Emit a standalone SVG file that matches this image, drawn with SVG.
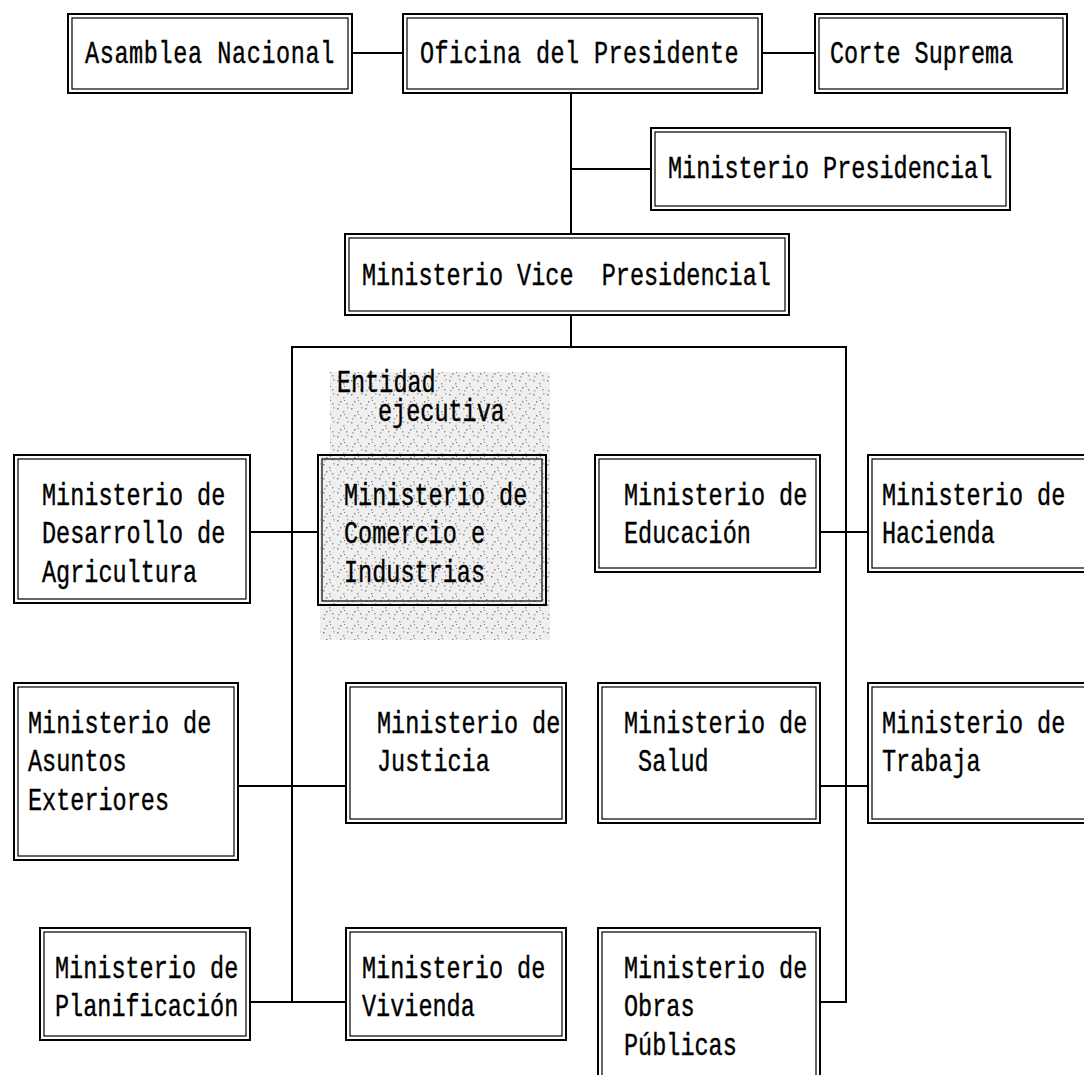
<svg xmlns="http://www.w3.org/2000/svg" width="1084" height="1075" viewBox="0 0 1084 1075">
<defs>
<pattern id="speck" width="14" height="14" patternUnits="userSpaceOnUse">
<rect width="14" height="14" fill="#efefef"/>
<rect x="1" y="2" width="1.5" height="1.5" fill="#888"/>
<rect x="7" y="5" width="1.5" height="1.5" fill="#999"/>
<rect x="11" y="1" width="1.5" height="1.5" fill="#aaa"/>
<rect x="4" y="9" width="1.5" height="1.5" fill="#888"/>
<rect x="10" y="11" width="1.5" height="1.5" fill="#999"/>
<rect x="2" y="12" width="1.5" height="1.5" fill="#aaa"/>
<rect x="8" y="8" width="1" height="1" fill="#777"/>
</pattern>
</defs>
<style>
.o{fill:none;stroke:#000;stroke-width:2}
.i{fill:none;stroke:#000;stroke-width:1.2}
.c{fill:none;stroke:#000;stroke-width:2}
text{font-family:"Liberation Mono","DejaVu Sans Mono",monospace;font-size:23.5px;fill:#000;stroke:#000;stroke-width:0.3}
</style>
<rect width="1084" height="1075" fill="#fff"/>
<g id="shade">
<path d="M330,372 H550 V640 H320 V455 H330 Z" fill="url(#speck)"/>
<text transform="translate(337,392) scale(1,1.3)">Entidad</text>
<text transform="translate(378,421) scale(1,1.3)">ejecutiva</text>
</g>
<g id="connectors">
<line class="c" x1="352" y1="53" x2="403" y2="53"/>
<line class="c" x1="762" y1="53" x2="815" y2="53"/>
<line class="c" x1="571" y1="93" x2="571" y2="234"/>
<line class="c" x1="571" y1="169" x2="651" y2="169"/>
<line class="c" x1="571" y1="315" x2="571" y2="347"/>
<polyline class="c" points="292,1002 292,347 846,347 846,1002 820,1002"/>
<line class="c" x1="250" y1="532" x2="318" y2="532"/>
<line class="c" x1="820" y1="532" x2="868" y2="532"/>
<line class="c" x1="238" y1="786" x2="346" y2="786"/>
<line class="c" x1="820" y1="786" x2="868" y2="786"/>
<line class="c" x1="250" y1="1002" x2="346" y2="1002"/>
</g>
<g id="asamblea"><rect class="o" x="68" y="14" width="284" height="79"/><rect class="i" x="72" y="18" width="276" height="71"/>
<text transform="translate(85,63) scale(1,1.3)" letter-spacing="0.6">Asamblea Nacional</text></g>
<g id="oficina"><rect class="o" x="403" y="14" width="359" height="79"/><rect class="i" x="407" y="18" width="351" height="71"/>
<text transform="translate(420,63) scale(1,1.3)" letter-spacing="0.4">Oficina del Presidente</text></g>
<g id="corte"><rect class="o" x="815" y="14" width="252" height="79"/><rect class="i" x="819" y="18" width="244" height="71"/>
<text transform="translate(830,63) scale(1,1.3)">Corte Suprema</text></g>
<g id="presidencial"><rect class="o" x="651" y="128" width="359" height="82"/><rect class="i" x="655" y="132" width="351" height="74"/>
<text transform="translate(668,178) scale(1,1.3)">Ministerio Presidencial</text></g>
<g id="vice"><rect class="o" x="345" y="234" width="444" height="81"/><rect class="i" x="349" y="238" width="436" height="73"/>
<text transform="translate(362,285) scale(1,1.3)" xml:space="preserve">Ministerio Vice  Presidencial</text></g>
<g id="agricultura"><rect class="o" x="14" y="455" width="236" height="148"/><rect class="i" x="18" y="459" width="228" height="140"/>
<text transform="translate(42,505) scale(1,1.3)"><tspan x="0" y="0">Ministerio de</tspan><tspan x="0" y="29.5">Desarrollo de</tspan><tspan x="0" y="59">Agricultura</tspan></text></g>
<g id="comercio"><rect class="o" x="318" y="455" width="228" height="150"/><rect class="i" x="322" y="459" width="220" height="142"/>
<text transform="translate(344,505) scale(1,1.3)"><tspan x="0" y="0">Ministerio de</tspan><tspan x="0" y="29.5">Comercio e</tspan><tspan x="0" y="59">Industrias</tspan></text></g>
<g id="educacion"><rect class="o" x="595" y="455" width="225" height="117"/><rect class="i" x="599" y="459" width="217" height="109"/>
<text transform="translate(624,505) scale(1,1.3)"><tspan x="0" y="0">Ministerio de</tspan><tspan x="0" y="29.5">Educación</tspan></text></g>
<g id="hacienda"><rect class="o" x="868" y="455" width="230" height="117"/><rect class="i" x="872" y="459" width="222" height="109"/>
<text transform="translate(882,505) scale(1,1.3)"><tspan x="0" y="0">Ministerio de</tspan><tspan x="0" y="29.5">Hacienda</tspan></text></g>
<g id="exteriores"><rect class="o" x="14" y="683" width="224" height="177"/><rect class="i" x="18" y="687" width="216" height="169"/>
<text transform="translate(28,733) scale(1,1.3)"><tspan x="0" y="0">Ministerio de</tspan><tspan x="0" y="29.5">Asuntos</tspan><tspan x="0" y="59">Exteriores</tspan></text></g>
<g id="justicia"><rect class="o" x="346" y="683" width="220" height="140"/><rect class="i" x="350" y="687" width="212" height="132"/>
<text transform="translate(377,733) scale(1,1.3)"><tspan x="0" y="0">Ministerio de</tspan><tspan x="0" y="29.5">Justicia</tspan></text></g>
<g id="salud"><rect class="o" x="598" y="683" width="222" height="140"/><rect class="i" x="602" y="687" width="214" height="132"/>
<text transform="translate(624,733) scale(1,1.3)" xml:space="preserve"><tspan x="0" y="0">Ministerio de</tspan><tspan x="0" y="29.5"> Salud</tspan></text></g>
<g id="trabajo"><rect class="o" x="868" y="683" width="230" height="140"/><rect class="i" x="872" y="687" width="222" height="132"/>
<text transform="translate(882,733) scale(1,1.3)"><tspan x="0" y="0">Ministerio de</tspan><tspan x="0" y="29.5">Trabaja</tspan></text></g>
<g id="planificacion"><rect class="o" x="40" y="928" width="210" height="112"/><rect class="i" x="44" y="932" width="202" height="104"/>
<text transform="translate(55,978) scale(1,1.3)"><tspan x="0" y="0">Ministerio de</tspan><tspan x="0" y="29.5">Planificación</tspan></text></g>
<g id="vivienda"><rect class="o" x="346" y="928" width="220" height="112"/><rect class="i" x="350" y="932" width="212" height="104"/>
<text transform="translate(362,978) scale(1,1.3)"><tspan x="0" y="0">Ministerio de</tspan><tspan x="0" y="29.5">Vivienda</tspan></text></g>
<g id="obras"><rect class="o" x="598" y="928" width="222" height="160"/><rect class="i" x="602" y="932" width="214" height="152"/>
<text transform="translate(624,978) scale(1,1.3)"><tspan x="0" y="0">Ministerio de</tspan><tspan x="0" y="29.5">Obras</tspan><tspan x="0" y="59">Públicas</tspan></text></g>
</svg>
